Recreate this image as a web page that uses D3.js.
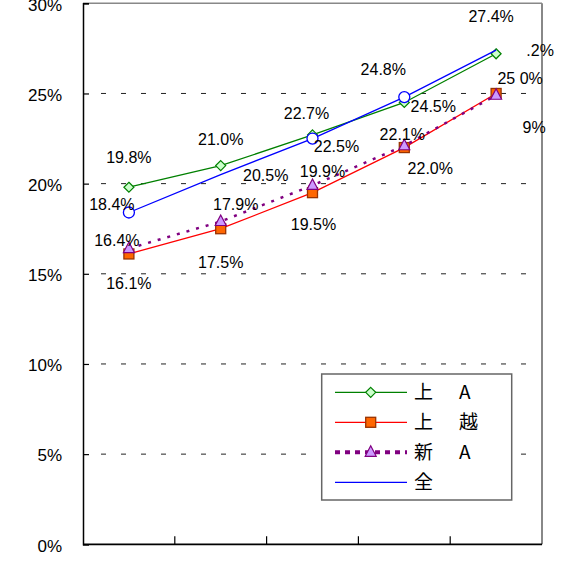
<!DOCTYPE html>
<html><head><meta charset="utf-8">
<script src="https://cdn.jsdelivr.net/npm/d3@7"></script>
<style>html,body{margin:0;padding:0;background:#fff;}svg{display:block;}</style>
</head><body>
<script>
// ---- data ----
const categories = ["1", "2", "3", "4", "5"];
const seriesNames = ["上　A", "上　越", "新　A", "全"];
const greenValues  = [19.8, 21.0, 22.7, 24.5, 27.2];
const redValues    = [16.1, 17.5, 19.5, 22.0, 25.0];
const purpleValues = [16.4, 17.9, 19.9, 22.1, 24.9];
const blueValues   = [18.4, 20.5, 22.5, 24.8, 27.4];
const greenLabels  = ["19.8%", "21.0%", "22.7%", "24.5%", ".2%"];
const redLabels    = ["16.1%", "17.5%", "19.5%", "22.0%", "25 0%"];
const purpleLabels = ["16.4%", "17.9%", "19.9%", "22.1%", "9%"];
const blueLabels   = ["18.4%", "20.5%", "22.5%", "24.8%", "27.4%"];
const yTicks = [0, 5, 10, 15, 20, 25, 30];

// ---- layout / style ----
const W = 566, H = 567;
const pLeft = 83, pRight = 542, pTop = 3.3, pBottom = 544.3;
const labelOffsets = {
  green:  [[0,-24],[0,-21],[-6,-16],[29,10],[44,2]],
  blue:   [[-17,-2],[45,6],[24,13],[-21,-22],[-5,-28]],
  red:    [[0,35],[0,39],[1,37],[26,26],[24,-9]],
  purple: [[-12,-3],[15,-12],[10,-8],[-2,-6],[38,38]]
};
const blueCircleIdx = [0, 2, 3];

const svg = d3.select("body").append("svg").attr("width", W).attr("height", H);
const x = d3.scaleBand().domain(categories).range([pLeft, pRight]).padding(0);
const y = d3.scaleLinear().domain([0, 30]).range([pBottom, pTop]);
const cx = c => x(c) + x.bandwidth() / 2;

// grid
svg.append("g").selectAll("line").data(yTicks.filter(t => t > 0 && t < 30)).join("line")
  .attr("x1", pLeft + 18).attr("x2", pRight).attr("y1", d => y(d)).attr("y2", d => y(d))
  .attr("stroke", "#222").attr("stroke-width", 1).attr("stroke-dasharray", "5,15");

// frame top/right
svg.append("line").attr("x1", pLeft).attr("x2", pRight).attr("y1", pTop).attr("y2", pTop)
  .attr("stroke", "#888").attr("stroke-width", 1.5);
svg.append("line").attr("x1", pRight).attr("x2", pRight).attr("y1", pTop).attr("y2", pBottom)
  .attr("stroke", "#888").attr("stroke-width", 2);

// y axis
const yAxis = d3.axisLeft(y).tickValues(yTicks).tickSize(-6).tickPadding(27).tickFormat(d => d + "%");
const gy = svg.append("g").attr("transform", `translate(${pLeft},0)`).call(yAxis);
gy.select(".domain").attr("stroke", "#000").attr("stroke-width", 1.5);
gy.selectAll(".tick line").attr("stroke", "#000").attr("stroke-width", 1.2);
gy.selectAll("text").attr("font-family", "Liberation Sans, Arial, sans-serif").attr("font-size", 17)
  .attr("fill", "#000").attr("dy", "0.4em").attr("x", -21);

// x axis with inside ticks at band boundaries
const boundaries = categories.map(c => x(c)).concat([pRight]);
const gx = svg.append("g");
gx.append("line").attr("x1", pLeft).attr("x2", pRight).attr("y1", pBottom).attr("y2", pBottom)
  .attr("stroke", "#000").attr("stroke-width", 1.8);
gx.selectAll("line.t").data(boundaries.slice(1, -1)).join("line").attr("class", "t")
  .attr("x1", d => d).attr("x2", d => d).attr("y1", pBottom).attr("y2", pBottom - 8)
  .attr("stroke", "#000").attr("stroke-width", 1.2);

// symbols
function drawMarker(g, type, px, py) {
  if (type === "diamond") {
    g.append("path").attr("d", `M${px},${py-5}L${px+5},${py}L${px},${py+5}L${px-5},${py}Z`)
      .attr("fill", "#ccffcc").attr("stroke", "#008000").attr("stroke-width", 1.2);
  } else if (type === "square") {
    g.append("rect").attr("x", px - 5).attr("y", py - 5).attr("width", 10).attr("height", 10)
      .attr("fill", "#ff6600").attr("stroke", "#993300").attr("stroke-width", 1.3);
  } else if (type === "triangle") {
    g.append("path").attr("d", `M${px},${py-6.5}L${px+5.5},${py+4}L${px-5.5},${py+4}Z`)
      .attr("fill", "#cc99ff").attr("stroke", "#800080").attr("stroke-width", 1.2);
  } else if (type === "circle") {
    g.append("circle").attr("cx", px).attr("cy", py).attr("r", 5.5)
      .attr("fill", "#fff").attr("stroke", "#0000ff").attr("stroke-width", 1.3);
  }
}

const series = [
  {key: "green", vals: greenValues, labels: greenLabels, color: "#008000", width: 1.3, dash: null, marker: "diamond"},
  {key: "red", vals: redValues, labels: redLabels, color: "#ff0000", width: 1.3, dash: null, marker: "square"},
  {key: "purple", vals: purpleValues, labels: purpleLabels, color: "#800080", width: 2.5, dash: "3,7", marker: "triangle"},
  {key: "blue", vals: blueValues, labels: blueLabels, color: "#0000ff", width: 1.3, dash: null, marker: "circle"}
];

const line = d3.line().x((d, i) => cx(categories[i])).y(d => y(d));
const marks = svg.append("g");
series.forEach(s => {
  const g = marks.append("g");
  g.append("path").attr("d", line(s.vals)).attr("fill", "none").attr("stroke", s.color)
    .attr("stroke-width", s.width).attr("stroke-dasharray", s.dash);
  s.vals.forEach((v, i) => {
    if (s.key === "blue" && !blueCircleIdx.includes(i)) return;
    drawMarker(g, s.marker, cx(categories[i]), y(v));
  });
});

// data labels
const lbl = svg.append("g").attr("font-family", "Liberation Sans, Arial, sans-serif").attr("font-size", 16)
  .attr("fill", "#000").attr("text-anchor", "middle");
series.forEach(s => {
  s.vals.forEach((v, i) => {
    const o = labelOffsets[s.key][i];
    lbl.append("text").attr("x", cx(categories[i]) + o[0]).attr("y", y(v) + o[1]).text(s.labels[i]);
  });
});

// legend
const lg = svg.append("g");
lg.append("rect").attr("x", 321.7).attr("y", 374).attr("width", 190).attr("height", 126)
  .attr("fill", "#fff").attr("stroke", "#666").attr("stroke-width", 1.5);
series.forEach((s, i) => {
  const ly = 392.3 + i * 30;
  lg.append("line").attr("x1", 335).attr("x2", 407).attr("y1", ly).attr("y2", ly)
    .attr("stroke", s.color).attr("stroke-width", s.key === "purple" ? 4 : 1.3)
    .attr("stroke-dasharray", s.key === "purple" ? "5,5" : null);
  if (s.key !== "blue") drawMarker(lg, s.marker, 370.7, ly);
  const parts = seriesNames[i].split("　");
  parts.forEach((p, j) => {
    lg.append("text").attr("x", j === 0 ? 414 : 459).attr("y", ly + 7)
      .attr("font-family", "Noto Sans CJK JP, sans-serif").attr("font-size", 19).attr("fill", "#000").text(p);
  });
});
</script>
</body></html>
